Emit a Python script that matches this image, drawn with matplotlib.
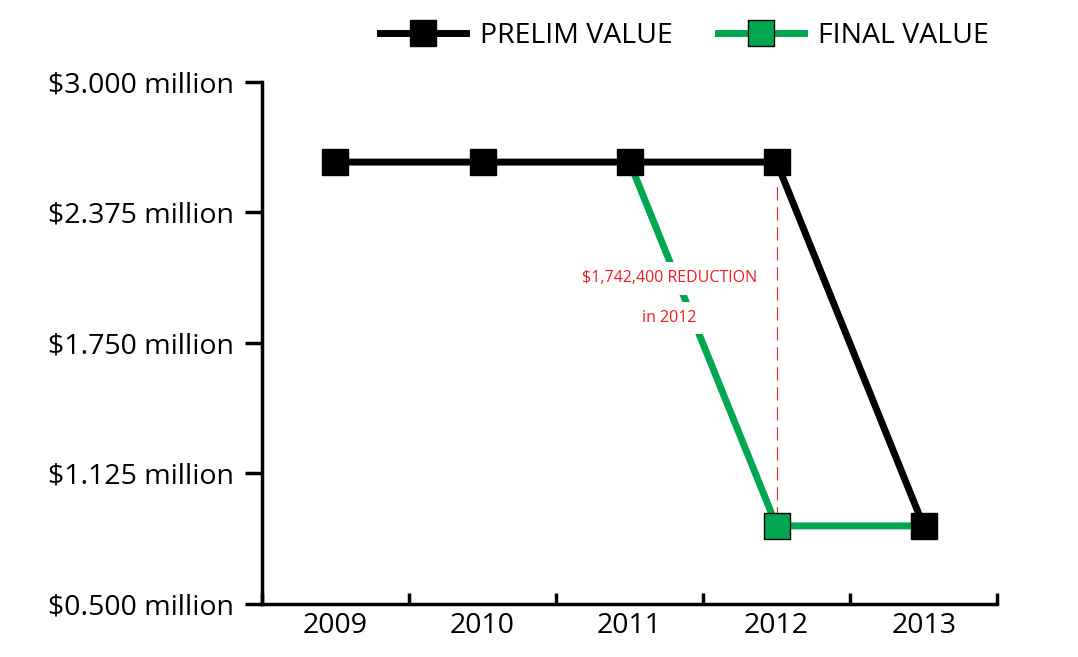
import matplotlib
matplotlib.use("Agg")
import matplotlib.pyplot as plt
from matplotlib.lines import Line2D

years = ["2009", "2010", "2011", "2012", "2013"]
prelim = [2.6164, 2.6164, 2.6164, 2.6164, 0.874]
final_years_idx = [2, 3, 4]
final = [2.6164, 0.874, 0.874]
ytick_vals = [0.5, 1.125, 1.75, 2.375, 3.0]
ytick_labels = ["$0.500 million", "$1.125 million", "$1.750 million", "$2.375 million", "$3.000 million"]

plt.rcParams["font.family"] = "Open Sans"
fig = plt.figure(figsize=(10.78, 6.57), dpi=100)
ax = fig.add_axes([0.243, 0.0807, 0.682, 0.7945])
x = list(range(len(years)))
green = "#00a651"
red = "#ed1c24"

ax.plot(final_years_idx, final, color=green, lw=5, zorder=2)
ax.plot(x, prelim, color="black", lw=5, zorder=3)
ax.plot(x[:4], prelim[:4], "s", color="black", ms=19, zorder=4)
ax.plot([3], [0.874], "s", color=green, mec="black", mew=1, ms=19, zorder=5)
ax.plot([4], [0.874], "s", color="black", ms=19, zorder=5)

ax.plot([3, 3], [0.9, 2.5], color=red, lw=0.8, ls=(0, (12, 6)), zorder=1)
ax.text(2.27, 2.06, "$1,742,400 REDUCTION", color=red, fontsize=11.5,
        ha="center", va="center", zorder=6,
        bbox=dict(facecolor="white", edgecolor="none", pad=6))
ax.text(2.27, 1.87, "in 2012", color=red, fontsize=11.5,
        ha="center", va="center", zorder=6,
        bbox=dict(facecolor="white", edgecolor="none", pad=6))

ax.set_xlim(-0.5, 4.5)
ax.set_ylim(0.5, 3.0)
for s in ["top", "right"]:
    ax.spines[s].set_visible(False)
for s in ["left", "bottom"]:
    ax.spines[s].set_linewidth(2.5)
ax.set_yticks(ytick_vals)
ax.set_yticklabels(ytick_labels, fontsize=20.5)
ax.tick_params(axis="y", direction="out", length=12, width=2.5, pad=8)
ax.set_xticks(x)
ax.set_xticklabels(years, fontsize=20.5)
ax.tick_params(axis="x", length=0, pad=6)
ax.set_xticks([i + 0.5 for i in range(-1, 5)], minor=True)
ax.tick_params(axis="x", which="minor", direction="in", length=8, width=2.5)

handles = [Line2D([], [], color="black", lw=5, marker="s", ms=19),
           Line2D([], [], color=green, lw=5, marker="s", ms=19, mec="black", mew=1)]
fig.legend(handles, ["PRELIM VALUE", "FINAL VALUE"], loc="upper center",
           bbox_to_anchor=(0.635, 1.005), ncol=2, frameon=False, fontsize=20.5,
           handlelength=3.0, columnspacing=1.6, handletextpad=0.5)
fig.savefig("out.png", dpi=100)
